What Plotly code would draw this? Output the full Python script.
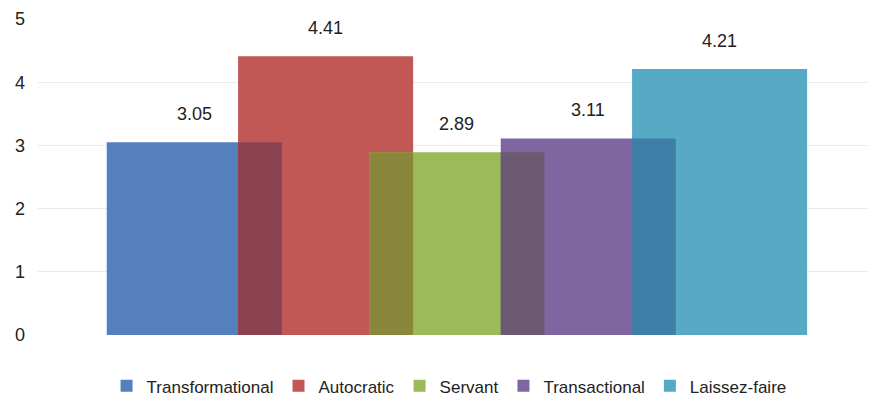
import plotly.graph_objects as go

styles = ["Transformational", "Autocratic", "Servant", "Transactional", "Laissez-faire"]
scores = [3.05, 4.41, 2.89, 3.11, 4.21]
colors = ["#5580BE", "#C15856", "#9BBB59", "#8066A1", "#57AAC6"]
overlap_colors = ["#8B4250", "#8A873C", "#6C5A72", "#3F7EA7"]
tick_vals = [0, 1, 2, 3, 4, 5]

bar_width = 1.333
positions = list(range(len(styles)))

FONT = "Liberation Sans, Arial, sans-serif"

fig = go.Figure()
for i, (name, v, c) in enumerate(zip(styles, scores, colors)):
    fig.add_trace(go.Bar(x=[positions[i]], y=[v], name=name, width=bar_width,
                         marker=dict(color=c, line=dict(width=0))))

# overlapping regions between adjacent bars (darker tones)
ov_x = [(positions[i] + positions[i + 1]) / 2 for i in range(len(styles) - 1)]
ov_y = [min(scores[i], scores[i + 1]) for i in range(len(styles) - 1)]
fig.add_trace(go.Bar(x=ov_x, y=ov_y, width=bar_width - 1, showlegend=False,
                     marker=dict(color=overlap_colors, line=dict(width=0)),
                     hoverinfo="skip"))

for i, v in enumerate(scores):
    fig.add_annotation(x=positions[i], y=v, text=f"{v:.2f}", showarrow=False,
                       yshift=28, font=dict(size=18, color="#222222", family=FONT))

fig.update_layout(
    width=872, height=395,
    barmode="overlay",
    plot_bgcolor="white", paper_bgcolor="white",
    margin=dict(l=38, r=4, t=19, b=60, autoexpand=False),
    font=dict(family=FONT, color="#222222"),
    xaxis=dict(range=[-1.19, 5.13], showticklabels=False, showgrid=False,
               zeroline=False, showline=False, ticks=""),
    yaxis=dict(range=[0, 5], tickvals=tick_vals, showgrid=True, gridcolor="#EBEBEB",
               gridwidth=1, zeroline=False, showline=False, ticks="",
               tickfont=dict(size=18), ticklabelstandoff=12),
    legend=dict(orientation="h", x=0.515, xanchor="center", xref="container",
                y=0.022, yanchor="middle", yref="container",
                font=dict(size=17), itemwidth=30, tracegroupgap=0,
                traceorder="normal"),
    showlegend=True,
)

fig.write_html("out.html")
